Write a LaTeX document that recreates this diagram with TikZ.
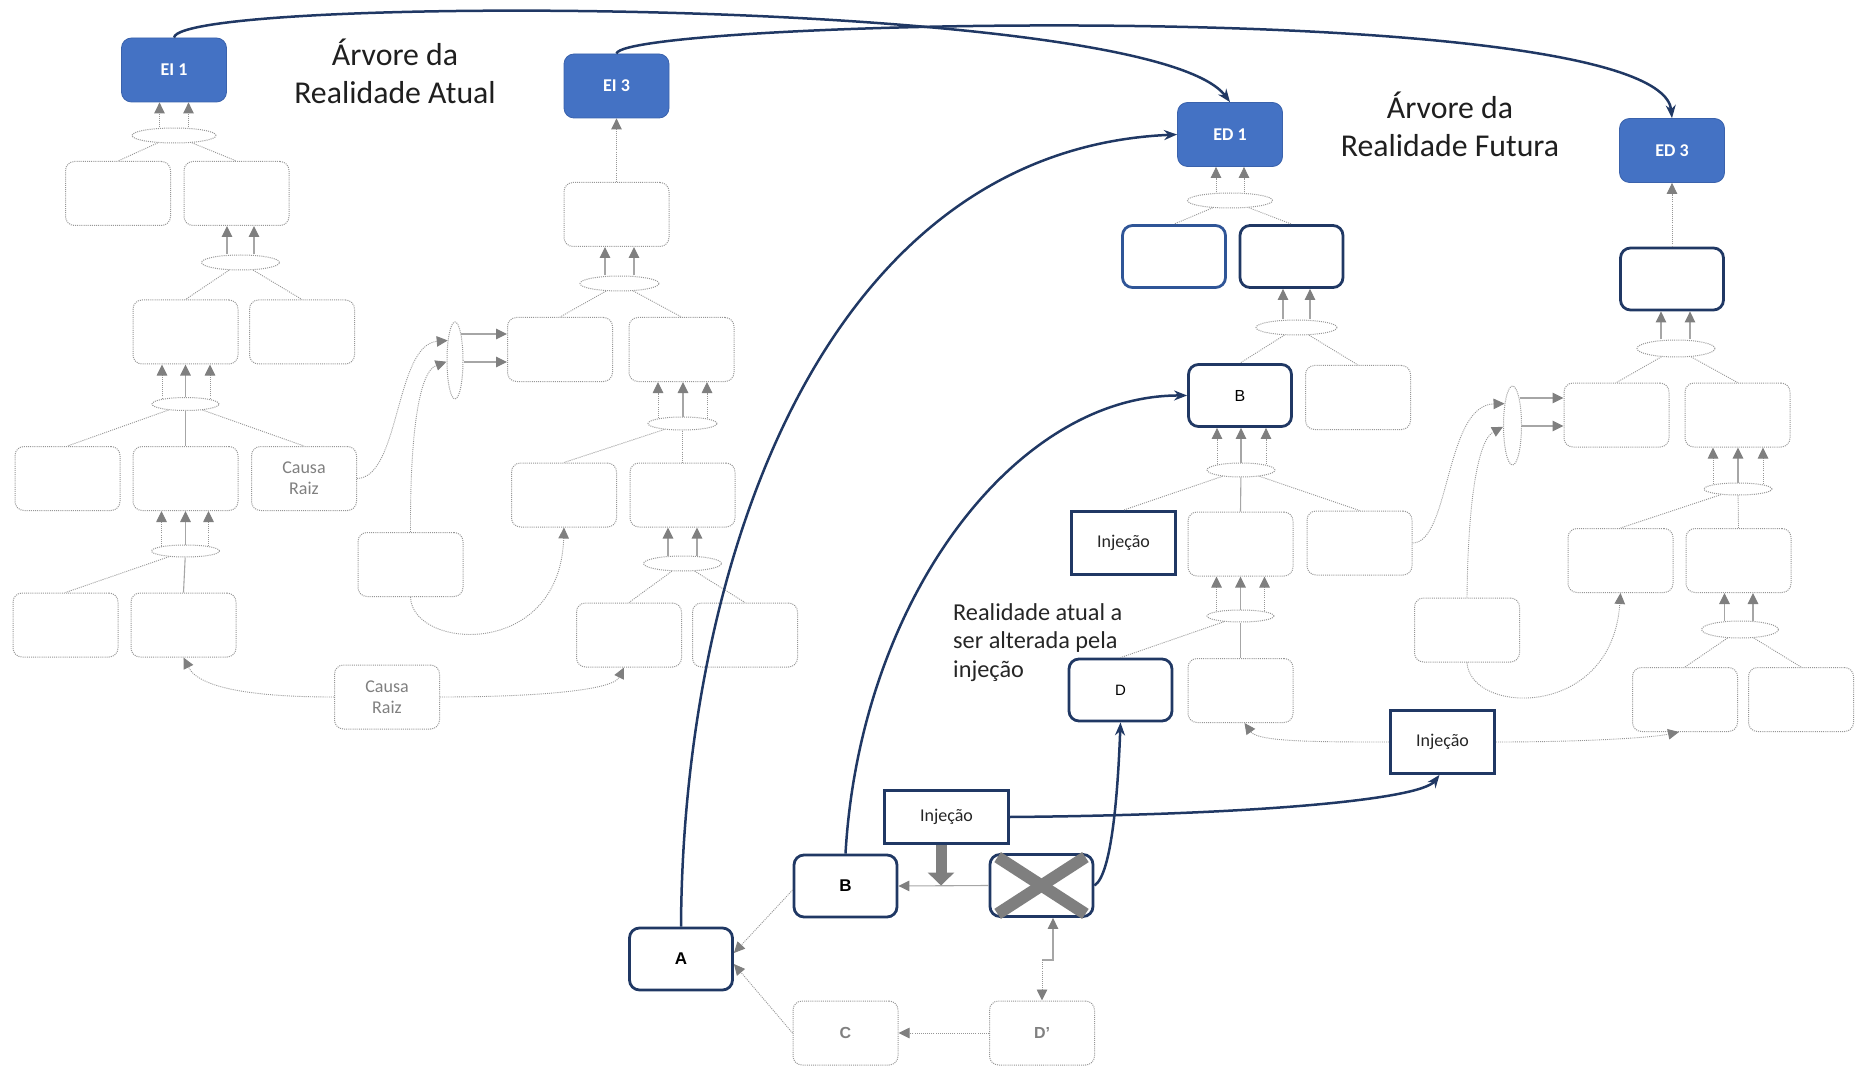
\documentclass[tikz,border=0pt]{standalone}
\usepackage{fontspec}
\setmainfont{Carlito}
\newfontfamily\arialf{Liberation Sans}
\usetikzlibrary{arrows.meta,shapes.geometric}
\definecolor{eblue}{HTML}{4472C4}
\definecolor{eedge}{HTML}{3A62AC}
\definecolor{navy}{HTML}{203864}
\definecolor{midnavy}{HTML}{2F5597}
\definecolor{dotgray}{HTML}{969696}
\definecolor{linegray}{HTML}{A6A6A6}
\definecolor{tipgray}{HTML}{7F7F7F}
\definecolor{labgray}{HTML}{808080}
\definecolor{xgray}{HTML}{7F7F7F}
\tikzset{
  dotpat/.style={dash pattern=on 1pt off 1.1pt},
  gbox/.style={rectangle, rounded corners=9pt, draw=dotgray, dotpat, line width=1pt, fill=white,
    minimum width=105pt, minimum height=64pt, inner sep=0pt},
  ebox/.style={rectangle, rounded corners=10pt, fill=eblue, draw=eedge, line width=0.8pt,
    minimum width=105pt, minimum height=64pt, text=white, inner sep=0pt,
    font=\fontsize{18}{20}\selectfont\bfseries},
  nbox/.style={rectangle, rounded corners=10pt, draw=navy, line width=2.8pt, fill=white,
    minimum width=103pt, minimum height=62pt, inner sep=0pt},
  ibox/.style={rectangle, draw=navy, line width=2.8pt, fill=white, minimum width=104pt,
    minimum height=63pt, inner sep=0pt, text=black!85, font=\fontsize{18}{20}\selectfont},
  andnode/.style={ellipse, draw=dotgray, dotpat, line width=1pt, fill=white, inner sep=0pt},
  tl/.style={draw=dotgray, dotpat, line width=0.9pt},
  sl/.style={draw=linegray, line width=1.1pt},
  tiphead/.style={-{Triangle[length=11pt,width=10.5pt,color=tipgray]}},
  sarr/.style={sl, tiphead},
  darr/.style={tl, tiphead},
  navyarr/.style={draw=navy, line width=2.5pt, -{Stealth[length=13pt,width=10pt]}},
  titletext/.style={font=\fontsize{31.8}{38}\selectfont, text=black!88, inner sep=0pt, anchor=base},
  notetext/.style={font=\fontsize{24.3}{28}\selectfont, text=black!85, inner sep=0pt, anchor=base west},
  crtext/.style={font=\fontsize{18}{21}\selectfont, text=labgray, align=center},
  lblr/.style={font=\arialf\fontsize{16}{18}\selectfont},
  lbld/.style={font=\arialf\bfseries\fontsize{17}{19}\selectfont},
  lblg/.style={font=\arialf\bfseries\fontsize{16}{18}\selectfont, text=labgray},
}
\begin{document}
\begin{tikzpicture}[x=1pt,y=-1pt]
\useasboundingbox (0,0) rectangle (1856,1067);

% ---------- titles and note ----------
\node[titletext] (t1a) at (395,66) {Árvore da};
\node[titletext] (t1b) at (395,104) {Realidade Atual};
\node[titletext] (t2a) at (1450,118.3) {Árvore da};
\node[titletext] (t2b) at (1450,156.7) {Realidade Futura};
\node[notetext] (n1) at (953,620) {Realidade atual a};
\node[notetext] (n2) at (953,648.5) {ser alterada pela};
\node[notetext] (n3) at (953,677) {injeção};

% ---------- current reality tree, left ----------
\node[ebox] (EI1) at (174,70) {EI 1};
\node[andnode, minimum width=84pt, minimum height=15pt] (Le1) at (174,135.5) {};
\node[gbox] (L1a) at (118,193.5) {};
\node[gbox] (L1b) at (236.5,193.5) {};
\node[andnode, minimum width=78pt, minimum height=15pt] (Le2) at (240.5,262.5) {};
\node[gbox] (L2a) at (185.5,332) {};
\node[gbox] (L2b) at (302,332) {};
\node[andnode, minimum width=67pt, minimum height=13pt] (Le3) at (185.5,404) {};
\node[gbox] (L3a) at (67.5,478.5) {};
\node[gbox] (L3b) at (185.5,478.5) {};
\node[gbox, crtext] (Lcr) at (304,478.5) {Causa\\Raiz};
\node[andnode, minimum width=68pt, minimum height=12pt] (Le4) at (185.5,551) {};
\node[gbox] (L4a) at (65.5,625) {};
\node[gbox] (L4b) at (183.5,625) {};
\node[gbox, crtext] (Lcr2) at (387,697) {Causa\\Raiz};

% ---------- current reality tree, middle ----------
\node[ebox] (EI3) at (616.5,86) {EI 3};
\node[gbox] (M1) at (616.5,214.5) {};
\node[andnode, minimum width=79pt, minimum height=15pt] (Me1) at (619.5,283.5) {};
\node[gbox] (M2a) at (560,349.5) {};
\node[gbox] (M2b) at (681.5,349.5) {};
\node[andnode, minimum width=16pt, minimum height=77pt] (Ms) at (455,360.5) {};
\node[andnode, minimum width=69pt, minimum height=13pt] (Me2) at (682.5,423.5) {};
\node[gbox] (M3a) at (564,495) {};
\node[gbox] (M3b) at (682.5,495) {};
\node[andnode, minimum width=78pt, minimum height=15pt] (Me3) at (682.5,563.5) {};
\node[gbox] (M4a) at (629,635) {};
\node[gbox] (M4b) at (745,635) {};
\node[gbox] (Maux) at (410.5,564.5) {};

% ---------- future reality tree, ED 1 ----------
\node[ebox] (ED1) at (1230,134.5) {ED 1};
\node[andnode, minimum width=85pt, minimum height=15pt] (Fe1) at (1230,200.5) {};
\node[nbox, draw=midnavy] (F1a) at (1174,256.5) {};
\node[nbox] (F1b) at (1291.5,256.5) {};
\node[andnode, minimum width=81pt, minimum height=15pt] (Fe2) at (1296.5,327.5) {};
\node[nbox, lblr] (FB) at (1240,395.5) {B};
\node[gbox] (F2b) at (1358,397.5) {};
\node[andnode, minimum width=68pt, minimum height=14pt] (Fe3) at (1241,470) {};
\node[ibox] (FInj) at (1123.5,543) {Injeção};
\node[gbox] (F3b) at (1240.5,544) {};
\node[gbox] (F3c) at (1359.5,543) {};
\node[andnode, minimum width=67pt, minimum height=12pt] (Fe4) at (1240.5,616) {};
\node[nbox, font=\arialf\fontsize{15}{16}\selectfont] (FD) at (1120.5,690) {D};
\node[gbox] (F4b) at (1240.5,690.5) {};
\node[ibox] (FInj2) at (1442.5,742) {Injeção};

% ---------- future reality tree, ED 3 ----------
\node[ebox] (ED3) at (1672,150.5) {ED 3};
\node[nbox] (R1) at (1672,279) {};
\node[andnode, minimum width=78pt, minimum height=17pt] (Re1) at (1676,348.5) {};
\node[gbox] (R2a) at (1616.5,415) {};
\node[gbox] (R2b) at (1737.5,415) {};
\node[andnode, minimum width=18pt, minimum height=79pt] (Rs) at (1512.5,425.5) {};
\node[andnode, minimum width=68pt, minimum height=12pt] (Re2) at (1738,489) {};
\node[gbox] (R3a) at (1620.5,560.5) {};
\node[gbox] (R3b) at (1738.5,560.5) {};
\node[andnode, minimum width=77pt, minimum height=17pt] (Re3) at (1740,629.5) {};
\node[gbox] (R4a) at (1685,699.5) {};
\node[gbox] (R4b) at (1801,699.5) {};
\node[gbox] (Raux) at (1467,630) {};

% ---------- injection cluster ----------
\node[nbox, lbld] (A) at (681,959) {A};
\node[nbox, lbld] (Bb) at (845.5,886) {B};
\node[ibox, minimum width=124pt, minimum height=53pt] (InjT) at (946.5,817) {Injeção};
\node[nbox] (X) at (1041.5,885.5) {};
\node[gbox, lblg] (C) at (845.5,1033) {C};
\node[gbox, lblg] (Dp) at (1042,1033) {D’};

% ---------- links, left tree ----------
\draw[darr] ([xshift=-14.5pt]Le1.north) -- ([xshift=-14.5pt]EI1.south);
\draw[darr] ([xshift=14.5pt]Le1.north) -- ([xshift=14.5pt]EI1.south);
\draw[tl] (Le1) -- (L1a.north);
\draw[tl] (Le1) -- (L1b.north);
\draw[sarr] ([xshift=-13.5pt]Le2.north) -- ([xshift=-9.5pt]L1b.south);
\draw[sarr] ([xshift=13.5pt]Le2.north) -- ([xshift=17.5pt]L1b.south);
\draw[tl] (Le2) -- (L2a.north);
\draw[tl] (Le2) -- (L2b.north);
\draw[darr] ([xshift=-23.5pt,yshift=-1.5pt]Le3.north) -- ([xshift=-23.5pt]L2a.south);
\draw[sarr] (Le3.north) -- (L2a.south);
\draw[darr] ([xshift=24.5pt,yshift=-1.5pt]Le3.north) -- ([xshift=24.5pt]L2a.south);
\draw[tl] (Le3) -- (L3a.north);
\draw[sl] (Le3) -- (L3b.north);
\draw[tl] (Le3) -- (Lcr.north);
\draw[darr] ([xshift=-24pt,yshift=-1.5pt]Le4.north) -- ([xshift=-24pt]L3b.south);
\draw[sarr] (Le4.north) -- (L3b.south);
\draw[darr] ([xshift=23pt,yshift=-1.5pt]Le4.north) -- ([xshift=23pt]L3b.south);
\draw[tl] (Le4) -- (L4a.north);
\draw[sl] (Le4) -- (L4b.north);

% ---------- links, middle tree ----------
\draw[darr] (M1.north) -- (EI3.south);
\draw[sarr] ([xshift=-14.5pt]Me1.north) -- ([xshift=-11.5pt]M1.south);
\draw[sarr] ([xshift=14.5pt]Me1.north) -- ([xshift=17.5pt]M1.south);
\draw[tl] (Me1) -- (M2a.north);
\draw[tl] (Me1) -- (M2b.north);
\draw[sarr] ([xshift=-2.2pt,yshift=26.5pt]Ms.east) -- ([yshift=15.5pt]M2a.west);
\draw[sarr] ([yshift=-1.5pt]Ms.east) -- ([yshift=-12.5pt]M2a.west);
\draw[darr] ([xshift=-24.5pt,yshift=-1.5pt]Me2.north) -- ([xshift=-23.5pt]M2b.south);
\draw[sarr] ([xshift=0.5pt]Me2.north) -- ([xshift=1.5pt]M2b.south);
\draw[darr] ([xshift=24.5pt,yshift=-1.5pt]Me2.north) -- ([xshift=25.5pt]M2b.south);
\draw[tl] (Me2) -- (M3a.north);
\draw[tl] (Me2) -- (M3b.north);
\draw[sarr] ([xshift=-14.5pt]Me3.north) -- ([xshift=-14.5pt]M3b.south);
\draw[sarr] ([xshift=14.5pt]Me3.north) -- ([xshift=14.5pt]M3b.south);
\draw[tl] (Me3) -- (M4a.north);
\draw[tl] (Me3) -- (M4b.north);

% ---------- links, ED 1 tree ----------
\draw[darr] ([xshift=-14pt]Fe1.north) -- ([xshift=-14pt]ED1.south);
\draw[darr] ([xshift=14pt]Fe1.north) -- ([xshift=14pt]ED1.south);
\draw[tl] (Fe1) -- (F1a.north);
\draw[tl] (Fe1) -- (F1b.north);
\draw[sarr] ([xshift=-13.5pt]Fe2.north) -- ([xshift=-8.5pt]F1b.south);
\draw[sarr] ([xshift=13.5pt]Fe2.north) -- ([xshift=18.5pt]F1b.south);
\draw[tl] (Fe2) -- (FB.north);
\draw[tl] (Fe2) -- (F2b.north);
\draw[darr] ([xshift=-24pt,yshift=-1.5pt]Fe3.north) -- ([xshift=-23pt]FB.south);
\draw[sarr] (Fe3.north) -- ([xshift=1pt]FB.south);
\draw[darr] ([xshift=25pt,yshift=-1.5pt]Fe3.north) -- ([xshift=26pt]FB.south);
\draw[tl] (Fe3) -- (FInj.north);
\draw[sl] (Fe3) -- (F3b.north);
\draw[tl] (Fe3) -- (F3c.north);
\draw[darr] ([xshift=-24pt,yshift=-1.5pt]Fe4.north) -- ([xshift=-24pt]F3b.south);
\draw[sarr] (Fe4.north) -- (F3b.south);
\draw[darr] ([xshift=24pt,yshift=-1.5pt]Fe4.north) -- ([xshift=24pt]F3b.south);
\draw[tl] (Fe4) -- (FD.north);
\draw[sl] (Fe4) -- (F4b.north);

% ---------- links, ED 3 tree ----------
\draw[darr] (R1.north) -- (ED3.south);
\draw[sarr] ([xshift=-15pt]Re1.north) -- ([xshift=-11pt]R1.south);
\draw[sarr] ([xshift=14pt]Re1.north) -- ([xshift=18pt]R1.south);
\draw[tl] (Re1) -- (R2a.north);
\draw[tl] (Re1) -- (R2b.north);
\draw[sarr] ([xshift=-2.5pt,yshift=27.5pt]Rs.east) -- ([yshift=17pt]R2a.west);
\draw[sarr] ([yshift=-0.5pt]Rs.east) -- ([yshift=-11pt]R2a.west);
\draw[darr] ([xshift=-25pt,yshift=-1.5pt]Re2.north) -- ([xshift=-24.5pt]R2b.south);
\draw[sarr] (Re2.north) -- ([xshift=0.5pt]R2b.south);
\draw[darr] ([xshift=25pt,yshift=-1.5pt]Re2.north) -- ([xshift=25.5pt]R2b.south);
\draw[tl] (Re2) -- (R3a.north);
\draw[tl] (Re2) -- (R3b.north);
\draw[sarr] ([xshift=-15.5pt]Re3.north) -- ([xshift=-14pt]R3b.south);
\draw[sarr] ([xshift=13pt]Re3.north) -- ([xshift=14.5pt]R3b.south);
\draw[tl] (Re3) -- (R4a.north);
\draw[tl] (Re3) -- (R4b.north);

% ---------- dotted side curves ----------
\draw[darr] (Lcr.east) .. controls (400,478) and (395,345) .. (Ms.110);
\draw[darr] (Maux.north) .. controls (410,440) and (418,372) .. (Ms.188);
\draw[darr] (Maux.south) .. controls (412,650) and (560,660) .. (M3a.south);
\draw[darr] (Lcr2.west) .. controls (262,697) and (200,690) .. (L4b.south);
\draw[darr] (Lcr2.east) .. controls (520,697) and (612,692) .. ([xshift=-5pt]M4a.south);
\draw[darr] (F3c.east) .. controls (1450,543) and (1445,405) .. (Rs.110);
\draw[darr] (Raux.north) .. controls (1468,500) and (1478,440) .. (Rs.188);
\draw[darr] (Raux.south) .. controls (1470,715) and (1612,720) .. (R3a.south);
\draw[darr] (FInj2.west) .. controls (1320,742) and (1258,742) .. ([xshift=4pt]F4b.south);
\draw[darr] (FInj2.east) .. controls (1580,742) and (1650,738) .. ([xshift=-6pt]R4a.south);

% ---------- injection cluster links ----------
\draw[darr] ([yshift=-4pt]Bb.west) -- ([yshift=6pt]A.east);
\draw[darr] (C.west) -- ([yshift=-5pt]A.east);
\draw[darr] (Dp.west) -- (C.east);
\draw[sarr] (X.west) -- (Bb.east);
\coordinate (hit) at (941,885.5);
\draw[draw=xgray, line width=11pt, -{Triangle[length=13pt,width=26pt]}] ([xshift=-5.5pt]InjT.south) -- (hit);
\coordinate (kink) at (1053,960);
\draw[sl, {Triangle[length=11pt,width=10.5pt,color=tipgray]}-] ([xshift=11.5pt]X.south) -- (kink) -- (kink -| Dp.north);
\draw[darr] (kink -| Dp.north) -- (Dp.north);
\draw[xgray, line width=12pt] ([shift={(9,4)}]X.north west) -- ([shift={(-9,-4)}]X.south east);
\draw[xgray, line width=12pt] ([shift={(-9,4)}]X.north east) -- ([shift={(9,-4)}]X.south west);

% ---------- navy links ----------
\draw[navyarr] (EI1.north) .. controls (180,-5) and (1150,-5) .. (ED1.north);
\draw[navyarr] (EI3.north) .. controls (622,20) and (1660,-5) .. (ED3.north);
\draw[navyarr] (A.north) .. controls (683,560) and (825,150) .. (ED1.west);
\draw[navyarr] (Bb.north) .. controls (860,600) and (1015,395) .. (FB.west);
\draw[navyarr] (X.east) .. controls (1112,875) and (1118,790) .. (FD.south);
\draw[navyarr] (InjT.east) .. controls (1250,815) and (1420,800) .. ([xshift=-3pt]FInj2.south);
\end{tikzpicture}
\end{document}
